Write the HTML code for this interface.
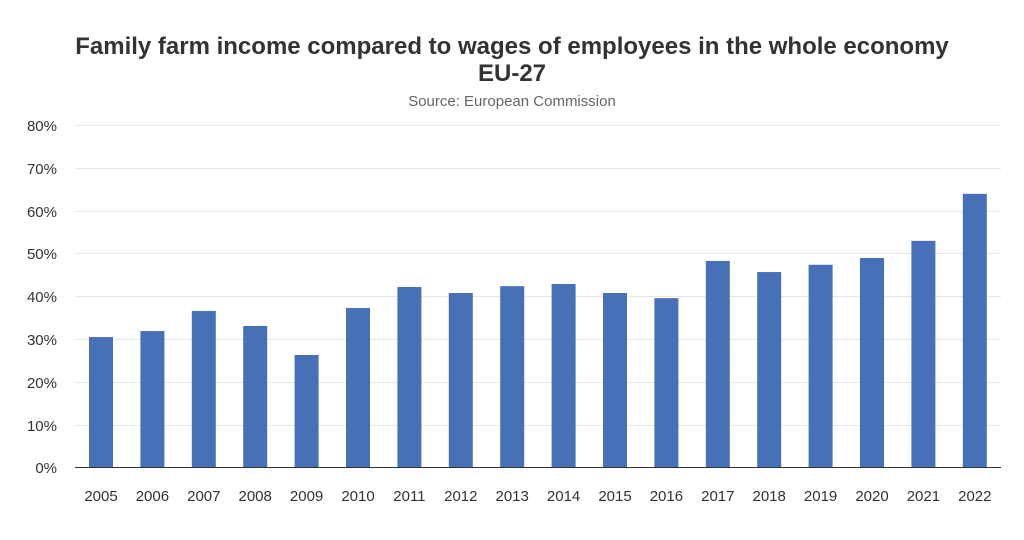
<!DOCTYPE html>
<html><head><meta charset="utf-8"><style>body{margin:0;background:#fff}svg{display:block}</style></head>
<body>
<svg width="1024" height="540" xmlns="http://www.w3.org/2000/svg" font-family="Liberation Sans, Arial, sans-serif">
<rect width="1024" height="540" fill="#fff"/>
<text x="512" y="54" text-anchor="middle" font-size="24" font-weight="bold" fill="#333">Family farm income compared to wages of employees in the whole economy</text>
<text x="512" y="81" text-anchor="middle" font-size="24" font-weight="bold" fill="#333">EU-27</text>
<text x="512" y="106" text-anchor="middle" font-size="15" fill="#666">Source: European Commission</text>
<g stroke="#e6e6e6" stroke-width="1">
<line x1="75" x2="1001" y1="125.5" y2="125.5"/><line x1="75" x2="1001" y1="168.5" y2="168.5"/>
<line x1="75" x2="1001" y1="211.5" y2="211.5"/><line x1="75" x2="1001" y1="253.5" y2="253.5"/>
<line x1="75" x2="1001" y1="296.5" y2="296.5"/><line x1="75" x2="1001" y1="339.5" y2="339.5"/>
<line x1="75" x2="1001" y1="382.5" y2="382.5"/><line x1="75" x2="1001" y1="425.5" y2="425.5"/>
</g>
<g font-size="15" fill="#333" text-anchor="end">
<text x="57" y="131">80%</text><text x="57" y="174">70%</text><text x="57" y="217">60%</text>
<text x="57" y="259">50%</text><text x="57" y="302">40%</text><text x="57" y="345">30%</text>
<text x="57" y="388">20%</text><text x="57" y="431">10%</text><text x="57" y="473">0%</text>
</g>
<g fill="#4770b6" id="bars"></g>
<line x1="75" x2="1001" y1="467.5" y2="467.5" stroke="#333"/>
<g font-size="15" fill="#333" text-anchor="middle" id="xl"></g>
<script>
var v=[30.4,31.8,36.5,33,26.2,37.2,42.1,40.7,42.3,42.8,40.7,39.5,48.2,45.6,47.3,48.9,52.9,63.9];
var b=document.getElementById('bars'),xl=document.getElementById('xl'),ns='http://www.w3.org/2000/svg';
v.forEach(function(d,i){var c=101+i*51.4,h=d*4.275;
var r=document.createElementNS(ns,'rect');r.setAttribute('x',c-12);r.setAttribute('width',24);r.setAttribute('y',467-h);r.setAttribute('height',h);b.appendChild(r);
var t=document.createElementNS(ns,'text');t.setAttribute('x',c);t.setAttribute('y',501);t.textContent=2005+i;xl.appendChild(t);});
</script>
</svg>
</body></html>
